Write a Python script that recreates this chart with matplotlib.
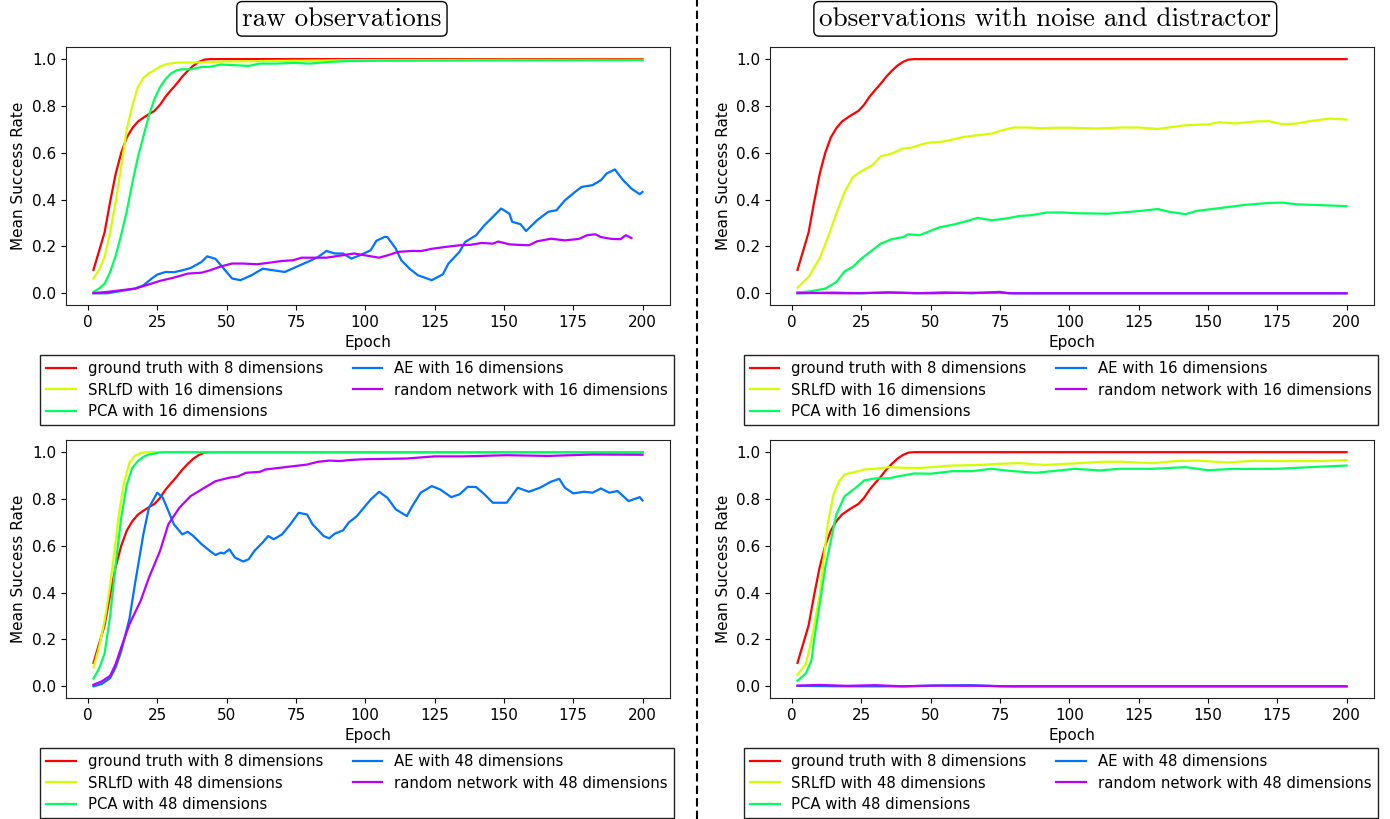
import matplotlib
matplotlib.use("Agg")
import matplotlib.pyplot as plt
from matplotlib.lines import Line2D
import numpy as np

# ground truth (same curve in every panel) =====================================
gt_ep = [2, 4, 6, 8, 10, 12, 14, 16, 18, 20, 22, 24, 26, 28, 30, 32, 34, 36, 38, 40, 42, 44, 46, 200]
gt_val = [0.10, 0.18, 0.26, 0.39, 0.51, 0.60, 0.665, 0.705, 0.733, 0.75, 0.765, 0.779, 0.805, 0.84,
          0.868, 0.895, 0.925, 0.95, 0.972, 0.988, 0.998, 1.0, 1.0, 1.0]

# raw observations, 16 dims ==================================================
srl16_raw_ep = [2, 4, 6, 8, 10, 12, 14, 16, 18, 20, 22, 24, 26, 28, 32, 40, 50, 70, 100, 150, 200]
srl16_raw = [0.063, 0.10, 0.155, 0.26, 0.39, 0.54, 0.70, 0.80, 0.88, 0.92, 0.94, 0.953, 0.968, 0.978,
             0.985, 0.986, 0.99, 0.993, 0.996, 0.997, 0.997]
pca16_raw_ep = [2, 4, 6, 8, 10, 12, 14, 16, 18, 20, 22, 24, 26, 28, 30, 32, 34, 37, 41, 44, 48, 53, 58,
                62, 68, 74, 80, 86, 92, 102, 150, 200]
pca16_raw = [0.006, 0.02, 0.041, 0.09, 0.16, 0.25, 0.35, 0.47, 0.58, 0.67, 0.76, 0.83, 0.88, 0.915, 0.939,
             0.952, 0.957, 0.956, 0.967, 0.967, 0.977, 0.974, 0.971, 0.981, 0.981, 0.984, 0.981, 0.987,
             0.991, 0.993, 0.995, 0.996]
ae16_raw_ep = [2, 7, 12, 17, 20, 23, 25, 28, 31, 34, 37, 41, 43, 46, 49, 52, 55, 59, 63, 67, 71, 75, 80,
               83, 86, 89, 92, 95, 98, 102, 104, 107, 108, 111, 113, 116, 119, 124, 128, 130, 134, 136,
               140, 143, 146, 149, 152, 153, 156, 158, 162, 166, 169, 172, 176, 178, 182, 185, 187, 190,
               193, 196, 199, 200]
ae16_raw = [0.0, 0.0, 0.01, 0.02, 0.034, 0.063, 0.08, 0.091, 0.09, 0.098, 0.108, 0.134, 0.158, 0.147,
            0.105, 0.063, 0.056, 0.077, 0.105, 0.098, 0.091, 0.112, 0.138, 0.155, 0.181, 0.17, 0.17, 0.148,
            0.162, 0.184, 0.224, 0.241, 0.24, 0.191, 0.141, 0.105, 0.077, 0.056, 0.081, 0.127, 0.177, 0.219,
            0.248, 0.291, 0.326, 0.362, 0.34, 0.305, 0.295, 0.266, 0.312, 0.348, 0.355, 0.397, 0.436, 0.454,
            0.462, 0.483, 0.511, 0.529, 0.483, 0.447, 0.423, 0.433]
rnd16_raw_ep = [2, 7, 12, 17, 22, 26, 31, 36, 41, 44, 48, 52, 56, 61, 65, 70, 74, 77, 82, 86, 91, 96, 100,
                105, 108, 112, 117, 120, 124, 129, 134, 138, 142, 146, 148, 152, 155, 159, 162, 167, 172,
                177, 180, 183, 185, 189, 192, 194, 196]
rnd16_raw = [0.001, 0.006, 0.013, 0.02, 0.038, 0.053, 0.067, 0.084, 0.088, 0.098, 0.115, 0.127, 0.127,
             0.124, 0.13, 0.138, 0.141, 0.152, 0.152, 0.152, 0.161, 0.17, 0.162, 0.152, 0.162, 0.177, 0.181,
             0.18, 0.19, 0.198, 0.205, 0.207, 0.215, 0.212, 0.221, 0.209, 0.207, 0.205, 0.222, 0.233, 0.226,
             0.232, 0.248, 0.252, 0.24, 0.232, 0.231, 0.248, 0.236]

# noise + distractor, 16 dims ================================================
srl16_noise_ep = [2, 6, 10, 13, 16, 19, 22, 25, 29, 32, 36, 40, 43, 47, 50, 54, 58, 62, 67, 72, 76, 80, 85,
                  90, 95, 100, 110, 119, 125, 132, 142, 150, 154, 160, 167, 172, 177, 182, 187, 194, 200]
srl16_noise = [0.024, 0.07, 0.15, 0.24, 0.34, 0.433, 0.497, 0.521, 0.547, 0.585, 0.597, 0.618, 0.622,
               0.637, 0.644, 0.647, 0.657, 0.668, 0.675, 0.682, 0.697, 0.708, 0.708, 0.705, 0.707, 0.707,
               0.704, 0.708, 0.708, 0.702, 0.718, 0.721, 0.731, 0.725, 0.734, 0.735, 0.722, 0.725, 0.736,
               0.746, 0.742]
pca16_noise_ep = [2, 7, 12, 16, 19, 22, 25, 29, 32, 36, 40, 42, 46, 49, 53, 58, 62, 67, 72, 77, 82, 86, 92,
                  98, 102, 114, 126, 132, 136, 142, 146, 153, 163, 172, 177, 182, 192, 200]
pca16_noise = [0.003, 0.009, 0.02, 0.048, 0.094, 0.113, 0.148, 0.184, 0.212, 0.231, 0.24, 0.252, 0.248,
               0.262, 0.281, 0.293, 0.305, 0.322, 0.312, 0.319, 0.33, 0.333, 0.345, 0.345, 0.342, 0.34,
               0.352, 0.36, 0.348, 0.338, 0.352, 0.362, 0.377, 0.386, 0.387, 0.38, 0.376, 0.372]
ae16_noise_ep = [2, 15, 25, 35, 45, 55, 65, 75, 78, 200]
ae16_noise = [0.0, 0.003, 0.0, 0.004, 0.0, 0.004, 0.0, 0.006, 0.0, 0.0]
rnd16_noise_ep = [2, 20, 35, 50, 60, 75, 80, 200]
rnd16_noise = [0.002, 0.0, 0.003, 0.0, 0.002, 0.003, 0.0, 0.0]

# raw observations, 48 dims ==================================================
srl48_raw_ep = [2, 4, 6, 8, 10, 11, 13, 15, 17, 19, 21, 200]
srl48_raw = [0.081, 0.166, 0.28, 0.43, 0.62, 0.72, 0.87, 0.955, 0.985, 0.996, 1.0, 1.0]
pca48_raw_ep = [2, 4, 6, 8, 10, 12, 14, 16, 18, 20, 22, 26, 28, 200]
pca48_raw = [0.034, 0.075, 0.14, 0.30, 0.52, 0.72, 0.86, 0.933, 0.962, 0.98, 0.99, 0.999, 1.0, 1.0]
ae48_raw_ep = [2, 5, 8, 10, 12, 15, 17, 20, 22, 25, 27, 29, 31, 34, 36, 38, 41, 44, 46, 48, 49, 51, 53,
               56, 58, 60, 63, 65, 67, 70, 73, 76, 79, 81, 85, 87, 89, 92, 94, 97, 99, 102, 105, 108, 111,
               115, 117, 120, 124, 127, 131, 134, 137, 140, 143, 146, 151, 155, 159, 163, 167, 170, 172,
               175, 179, 182, 185, 188, 191, 195, 199, 200]
ae48_raw = [0.0, 0.01, 0.035, 0.081, 0.15, 0.29, 0.44, 0.65, 0.763, 0.827, 0.805, 0.749, 0.692, 0.649,
            0.66, 0.642, 0.607, 0.578, 0.561, 0.571, 0.567, 0.585, 0.55, 0.533, 0.543, 0.578, 0.614, 0.642,
            0.628, 0.649, 0.692, 0.741, 0.734, 0.692, 0.642, 0.632, 0.652, 0.666, 0.699, 0.727, 0.756,
            0.798, 0.831, 0.805, 0.756, 0.727, 0.77, 0.827, 0.855, 0.841, 0.808, 0.82, 0.852, 0.851, 0.82,
            0.784, 0.784, 0.848, 0.831, 0.848, 0.874, 0.886, 0.848, 0.824, 0.831, 0.827, 0.845, 0.827,
            0.834, 0.791, 0.808, 0.794]
rnd48_raw_ep = [2, 5, 8, 10, 12, 15, 19, 22, 26, 29, 33, 37, 41, 46, 51, 54, 57, 62, 64, 69, 74, 79, 83,
                87, 91, 94, 98, 101, 115, 125, 135, 151, 166, 182, 200]
rnd48_raw = [0.007, 0.021, 0.045, 0.095, 0.166, 0.266, 0.365, 0.464, 0.578, 0.692, 0.763, 0.812, 0.841,
             0.876, 0.891, 0.896, 0.912, 0.916, 0.926, 0.933, 0.94, 0.947, 0.959, 0.964, 0.962, 0.966,
             0.969, 0.97, 0.973, 0.982, 0.982, 0.987, 0.984, 0.99, 0.989]

# noise + distractor, 48 dims ================================================
srl48_noise_ep = [2, 5, 7, 10, 11, 13, 15, 17, 19, 23, 26, 30, 35, 41, 47, 50, 58, 67, 74, 82, 86, 91, 98,
                  102, 112, 119, 130, 138, 146, 157, 166, 178, 190, 200]
srl48_noise = [0.05, 0.095, 0.195, 0.39, 0.50, 0.70, 0.82, 0.876, 0.905, 0.916, 0.926, 0.929, 0.936,
               0.933, 0.933, 0.936, 0.943, 0.945, 0.95, 0.953, 0.95, 0.945, 0.95, 0.952, 0.959, 0.959,
               0.953, 0.962, 0.964, 0.956, 0.963, 0.962, 0.962, 0.966]
pca48_noise_ep = [2, 5, 7, 8, 10, 12, 14, 16, 19, 23, 26, 30, 35, 38, 44, 50, 58, 65, 72, 77, 83, 88, 94,
                  102, 111, 118, 130, 142, 150, 158, 175, 187, 200]
pca48_noise = [0.024, 0.055, 0.109, 0.2, 0.35, 0.507, 0.621, 0.734, 0.812, 0.848, 0.879, 0.888, 0.888,
               0.896, 0.909, 0.908, 0.919, 0.919, 0.929, 0.922, 0.916, 0.912, 0.919, 0.929, 0.922, 0.929,
               0.929, 0.936, 0.923, 0.928, 0.929, 0.936, 0.943]
ae48_noise_ep = [2, 20, 40, 55, 65, 75, 200]
ae48_noise = [0.002, 0.0, 0.0, 0.004, 0.005, 0.0, 0.0]
rnd48_noise_ep = [2, 10, 20, 30, 40, 50, 70, 80, 200]
rnd48_noise = [0.003, 0.006, 0.002, 0.005, 0.0, 0.003, 0.002, 0.0, 0.0]

colors = plt.cm.hsv(np.linspace(0, 0.8, 5))

panels = [
    # (left, bottom, legend top, legend center x, dims, series)
    (0.0475, 0.6276, 0.5665, 0.2568, 16,
     [(srl16_raw_ep, srl16_raw), (pca16_raw_ep, pca16_raw), (ae16_raw_ep, ae16_raw), (rnd16_raw_ep, rnd16_raw)]),
    (0.554, 0.6276, 0.5665, 0.7631, 16,
     [(srl16_noise_ep, srl16_noise), (pca16_noise_ep, pca16_noise), (ae16_noise_ep, ae16_noise),
      (rnd16_noise_ep, rnd16_noise)]),
    (0.0475, 0.1477, 0.0867, 0.2568, 48,
     [(srl48_raw_ep, srl48_raw), (pca48_raw_ep, pca48_raw), (ae48_raw_ep, ae48_raw), (rnd48_raw_ep, rnd48_raw)]),
    (0.554, 0.1477, 0.0867, 0.7631, 48,
     [(srl48_noise_ep, srl48_noise), (pca48_noise_ep, pca48_noise), (ae48_noise_ep, ae48_noise),
      (rnd48_noise_ep, rnd48_noise)]),
]

fig = plt.figure(figsize=(13.9, 8.19), dpi=100)

for left, bottom, leg_top, leg_cx, dims, series in panels:
    ax = fig.add_axes([left, bottom, 0.4345, 0.3145])
    names = ["SRLfD with %d dimensions" % dims, "PCA with %d dimensions" % dims,
             "AE with %d dimensions" % dims, "random network with %d dimensions" % dims]
    ax.plot(gt_ep, gt_val, color=colors[0], lw=1.6, label="ground truth with 8 dimensions")
    for i, (ep, val) in enumerate(series):
        ax.plot(ep, val, color=colors[i + 1], lw=1.6, label=names[i])
    ax.set_xlim(-7.9, 209.9)
    ax.set_ylim(-0.05, 1.05)
    ax.set_xticks(range(0, 201, 25))
    ax.set_yticks([0.0, 0.2, 0.4, 0.6, 0.8, 1.0])
    ax.tick_params(labelsize=11)
    ax.set_xlabel("Epoch", fontsize=11)
    ax.set_ylabel("Mean Success Rate", fontsize=11)
    for s in ax.spines.values():
        s.set_color("#222222")
    leg = ax.legend(loc="upper center", bbox_to_anchor=(leg_cx, leg_top), bbox_transform=fig.transFigure,
                    ncol=2, fontsize=10.7, fancybox=False, edgecolor="#222222", framealpha=1,
                    borderaxespad=0, labelspacing=0.45)
    leg.get_frame().set_linewidth(1.0)

# titles
box = dict(boxstyle="round,pad=0.2", facecolor="white", edgecolor="black", linewidth=1.0)
fig.text(0.246, 0.977, "raw observations", family="cmr10", fontsize=19.5, ha="center", va="center", bbox=box)
fig.text(0.752, 0.977, "observations with noise and distractor", family="cmr10", fontsize=19.5,
         ha="center", va="center", bbox=box)

# dashed separator
fig.add_artist(Line2D([0.5015, 0.5015], [0, 1], transform=fig.transFigure, color="black",
                      lw=1.5, ls=(0, (4, 2))))

plt.savefig("out.png", dpi=100)
